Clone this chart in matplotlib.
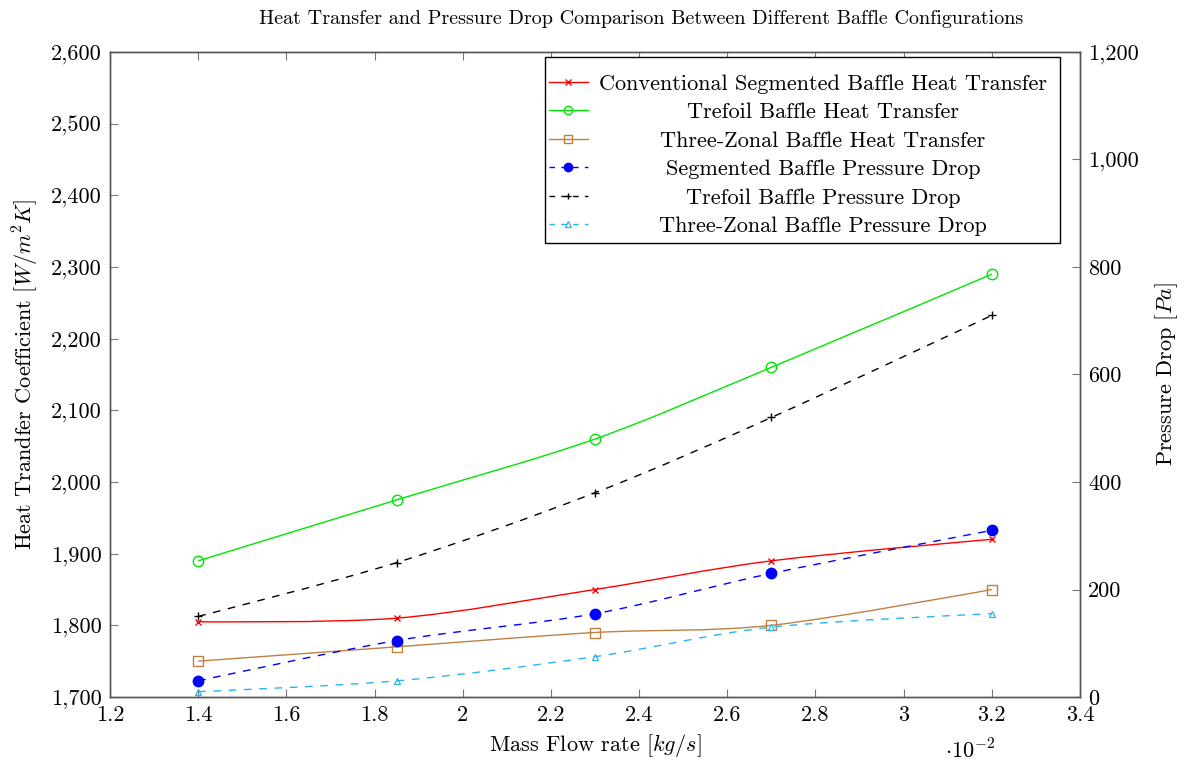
import numpy as np
import matplotlib
matplotlib.use("Agg")
import matplotlib.pyplot as plt
from matplotlib.path import Path
from matplotlib.patches import PathPatch, Rectangle
from matplotlib.ticker import FuncFormatter, MultipleLocator
from matplotlib.lines import Line2D

plt.rcParams['font.family'] = ['cmr10', 'DejaVu Serif']
plt.rcParams['mathtext.fontset'] = 'cm'
plt.rcParams['axes.formatter.use_mathtext'] = True
plt.rcParams['axes.unicode_minus'] = False

# ---- data (mass flow in units of 10^-2 kg/s) ----
mass_flow = [1.4, 1.85, 2.3, 2.7, 3.2]
seg_ht = [1805, 1810, 1850, 1890, 1920]
tref_ht = [1890, 1975, 2060, 2160, 2290]
three_ht = [1750, 1770, 1790, 1800, 1850]
seg_dp = [30, 105, 155, 230, 310]
tref_dp = [150, 250, 380, 520, 710]
three_dp = [10, 30, 75, 130, 155]

labels = ["Conventional Segmented Baffle Heat Transfer",
          "Trefoil Baffle Heat Transfer",
          "Three-Zonal Baffle Heat Transfer",
          "Segmented Baffle Pressure Drop",
          "Trefoil Baffle Pressure Drop",
          "Three-Zonal Baffle Pressure Drop"]

W, H = 1185, 762
fig = plt.figure(figsize=(W/100, H/100), dpi=100)
L, R, T, B = 110, 1080, 52, 697
ax = fig.add_axes([L/W, 1-B/H, (R-L)/W, (B-T)/H])
ax2 = ax.twinx()


def smooth_path(x, y, t=0.155):
    pts = np.column_stack([x, y]).astype(float)
    n = len(pts)
    verts = [pts[0]]
    codes = [Path.MOVETO]
    for i in range(n-1):
        p0, p1 = pts[i], pts[i+1]
        d0 = (pts[i+1]-pts[i-1])*t if i > 0 else np.zeros(2)
        d1 = (pts[i+2]-pts[i])*t if i+2 < n else np.zeros(2)
        verts += [p0+d0, p1-d1, p1]
        codes += [Path.CURVE4]*3
    return Path(verts, codes)


lw = 1.0
dash = (0, (5.5, 5.5))
styles = [
    dict(color='#ff0000', ls='-', marker='x', ms=5, mfc='none', mew=1.0),
    dict(color='#00e600', ls='-', marker='o', ms=7.5, mfc='none', mew=1.0),
    dict(color='#bf8040', ls='-', marker='s', ms=7.5, mfc='none', mew=1.0),
    dict(color='#0000ff', ls=dash, marker='o', ms=7.5, mfc='#0000ff', mew=1.0),
    dict(color='#000000', ls=dash, marker='+', ms=6, mfc='none', mew=1.0),
    dict(color='#2ab4ee', ls=dash, marker='^', ms=5, mfc='none', mew=0.9),
]
series = [(ax, seg_ht), (ax, tref_ht), (ax, three_ht),
          (ax2, seg_dp), (ax2, tref_dp), (ax2, three_dp)]

for (a, ys), st in zip(series, styles):
    patch = PathPatch(smooth_path(mass_flow, ys), facecolor='none',
                      edgecolor=st['color'], lw=lw, linestyle=st['ls'],
                      transform=a.transData, zorder=3)
    a.add_patch(patch)
    a.plot(mass_flow, ys, linestyle='none', marker=st['marker'], ms=st['ms'],
           mfc=st['mfc'], mec=st['color'], mew=st['mew'], zorder=4)

ax.set_xlim(1.2, 3.4)
ax.set_ylim(1700, 2600)
ax2.set_ylim(0, 1200)
ax.xaxis.set_major_locator(MultipleLocator(0.2))
ax.yaxis.set_major_locator(MultipleLocator(100))
ax2.yaxis.set_major_locator(MultipleLocator(200))
ax.xaxis.set_major_formatter(FuncFormatter(lambda v, p: f"{round(v, 1):g}"))
ax.yaxis.set_major_formatter(FuncFormatter(lambda v, p: f"{int(round(v)):,}"))
ax2.yaxis.set_major_formatter(FuncFormatter(lambda v, p: f"{int(round(v)):,}"))

fs = 16
spine_c = '#555555'
for a in (ax, ax2):
    for s in a.spines.values():
        s.set_color(spine_c)
        s.set_linewidth(1.0)
ax.tick_params(axis='x', direction='in', top=True, length=6, width=0.8,
               color='#777777', labelsize=fs, pad=6)
ax.tick_params(axis='y', direction='in', length=6, width=0.8,
               color='#777777', labelsize=fs, pad=6)
ax2.tick_params(axis='y', direction='in', length=6, width=0.8,
                color='#777777', labelsize=fs, pad=6)

ax.set_xlabel(r"Mass Flow rate $[kg/s]$", fontsize=fs, labelpad=5)
ax.set_ylabel(r"Heat Trandfer Coefficient $[W/m^2K]$", fontsize=fs, labelpad=7)
ax2.set_ylabel(r"Pressure Drop $[Pa]$", fontsize=fs, labelpad=10)
fig.text(970/W, 1-750/H, r"$\cdot10^{-2}$", fontsize=fs, ha='center', va='center')
fig.text(641/W, 1-19/H,
         "Heat Transfer and Pressure Drop Comparison Between Different Baffle Configurations",
         fontsize=14.5, ha='center', va='center')

# ---- legend (manual, centered texts like pgfplots) ----
aw, ah = R-L, B-T
def axx(px): return (px-L)/aw
def axy(py): return (B-py)/ah

lx0, lx1, ly0, ly1 = 545, 1060, 243, 57
ax2.add_patch(Rectangle((axx(lx0), axy(ly0)), axx(lx1)-axx(lx0), axy(ly1)-axy(ly0),
                        transform=ax2.transAxes, facecolor='white',
                        edgecolor='black', lw=1.0, zorder=10))
rows = [82, 110, 139, 167, 196, 224]
for lab, st, py in zip(labels, styles, rows):
    yy = axy(py)
    ax2.add_line(Line2D([axx(549), axx(588)], [yy, yy], transform=ax2.transAxes,
                        color=st['color'], lw=lw, linestyle=st['ls'] if st['ls'] == '-' else (0, (4.0, 4.5)),
                        zorder=11))
    ax2.add_line(Line2D([axx(568)], [yy], transform=ax2.transAxes, linestyle='none',
                        marker=st['marker'], ms=st['ms']*0.8, mfc=st['mfc'],
                        mec=st['color'], mew=st['mew'], zorder=12))
    ax2.text(axx(823), yy, lab, transform=ax2.transAxes, fontsize=fs,
             ha='center', va='center_baseline', zorder=12)

fig.savefig("out.png", dpi=100)
